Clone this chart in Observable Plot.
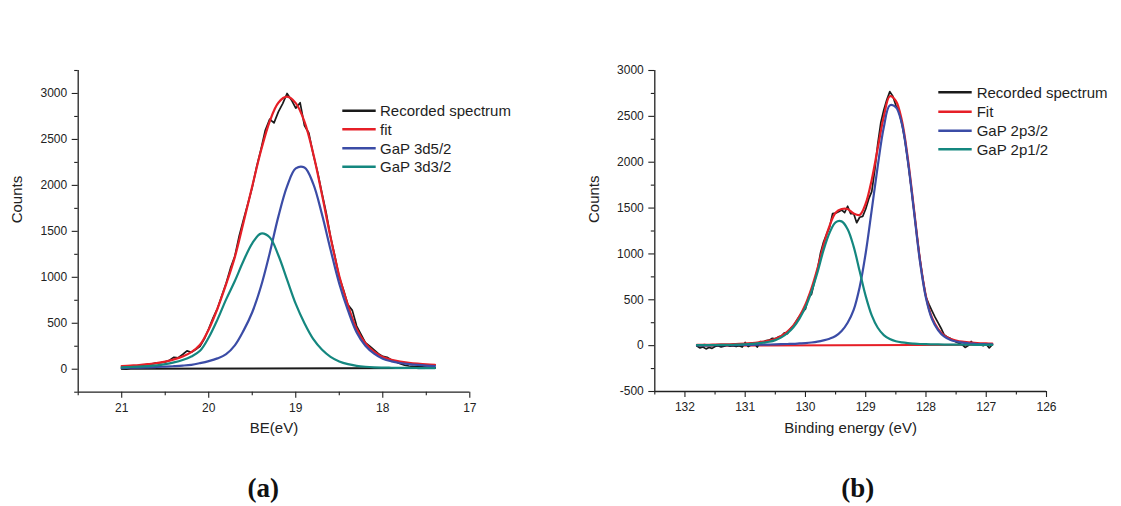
<!DOCTYPE html>
<html>
<head>
<meta charset="utf-8">
<script src="https://cdn.jsdelivr.net/npm/d3@7"></script>
<script src="https://cdn.jsdelivr.net/npm/@observablehq/plot@0.6"></script>
<style>
  body { margin: 0; background: #fff; }
  #wrap { position: relative; width: 1121px; height: 506px; overflow: hidden; background: #fff; }
  #wrap > svg, #wrap > div { position: absolute; top: 0; }
</style>
</head>
<body>
<div id="wrap"></div>
<script>
// ---------- Panel (a): GaP 3d ----------
const leftBE = [21.0,20.9,20.8,20.7,20.6,20.5,20.4,20.3,20.2,20.1,20.0,19.9,19.8,19.7,19.6,19.5,19.4,19.3,19.2,19.1,19.0,18.9,18.8,18.7,18.6,18.5,18.4,18.3,18.2,18.1,18.0,17.9,17.8,17.7,17.6,17.5,17.4];
const left3d52 = [14,16,18,21,24,28,33,39,48,66,88,118,165,260,420,620,900,1260,1660,1990,2185,2195,2020,1690,1300,930,640,400,255,170,115,86,68,56,47,40,35];
const left3d32 = [20,24,28,34,42,55,74,100,138,200,345,540,760,960,1180,1370,1476,1435,1240,975,710,500,330,215,135,85,55,37,27,21,18,16,15,14,13,12,12];
const leftFit = [34,40,46,55,66,83,107,139,186,266,433,658,925,1220,1600,1990,2376,2695,2900,2965,2895,2695,2350,1905,1435,1015,695,437,282,191,133,102,83,70,60,52,47];
const leftRecBE = [21.00,20.95,20.90,20.85,20.80,20.75,20.70,20.65,20.60,20.55,20.50,20.45,20.40,20.35,20.30,20.25,20.20,20.15,20.10,20.05,20.00,19.95,19.90,19.85,19.80,19.75,19.70,19.65,19.60,19.55,19.50,19.45,19.40,19.35,19.30,19.25,19.20,19.15,19.10,19.05,19.00,18.95,18.90,18.85,18.80,18.75,18.70,18.65,18.60,18.55,18.50,18.45,18.40,18.35,18.30,18.25,18.20,18.15,18.10,18.05,18.00,17.95,17.90,17.85,17.80,17.75,17.70,17.65,17.60,17.55,17.50,17.45,17.40];
const leftRec = [5,0,12,30,38,45,52,58,70,72,80,98,130,125,160,200,185,215,250,330,440,560,660,800,935,1100,1230,1450,1630,1800,1980,2200,2390,2600,2720,2680,2800,2890,3000,2930,2840,2900,2650,2570,2340,2150,1920,1700,1440,1230,1000,860,700,640,470,380,290,250,210,170,140,130,100,80,60,45,35,30,28,25,22,20,18];
const leftBaseBE = [21.0, 17.4];
const leftBase = [5, 12];
const leftXMajor = [21, 20, 19, 18, 17];
const leftXMinor = [21.5, 20.5, 19.5, 18.5, 17.5];
const leftYMajor = [0, 500, 1000, 1500, 2000, 2500, 3000];
const leftYMinor = [-250, 250, 750, 1250, 1750, 2250, 2750, 3250];
const leftNames = ["Recorded spectrum", "fit", "GaP 3d5/2", "GaP 3d3/2"];

// ---------- Panel (b): GaP 2p ----------
const rightBE = [131.8,131.7,131.6,131.5,131.4,131.3,131.2,131.1,131.0,130.9,130.8,130.7,130.6,130.5,130.4,130.3,130.2,130.1,130.0,129.9,129.8,129.7,129.6,129.5,129.4,129.3,129.2,129.1,129.0,128.9,128.8,128.7,128.6,128.5,128.4,128.3,128.2,128.1,128.0,127.9,127.8,127.7,127.6,127.5,127.4,127.3,127.2,127.1,127.0,126.9];
const right2p32 = [3,4,4,5,5,6,6,7,8,9,10,11,12,14,16,18,20,24,28,34,43,57,76,105,160,250,390,640,1010,1480,1960,2380,2620,2600,2420,2010,1470,920,520,290,170,100,65,45,33,26,21,17,15,13];
const right2p12 = [5,6,6,7,8,9,10,12,15,19,24,32,42,60,90,135,200,295,420,590,800,1040,1230,1345,1355,1270,1080,810,540,330,195,115,72,48,35,27,22,18,16,14,13,12,11,11,10,10,9,9,9,8];
const rightFit = [8,10,10,12,13,15,16,19,23,28,34,43,54,74,106,153,220,319,448,624,843,1097,1306,1450,1490,1490,1440,1425,1550,1810,2155,2495,2720,2670,2455,2037,1492,938,536,304,183,112,76,56,43,36,30,26,24,21];
const rightRecBE = [131.80,131.75,131.70,131.65,131.60,131.55,131.50,131.45,131.40,131.35,131.30,131.25,131.20,131.15,131.10,131.05,131.00,130.95,130.90,130.85,130.80,130.75,130.70,130.65,130.60,130.55,130.50,130.45,130.40,130.35,130.30,130.25,130.20,130.15,130.10,130.05,130.00,129.95,129.90,129.85,129.80,129.75,129.70,129.65,129.60,129.55,129.50,129.45,129.40,129.35,129.30,129.25,129.20,129.15,129.10,129.05,129.00,128.95,128.90,128.85,128.80,128.75,128.70,128.65,128.60,128.55,128.50,128.45,128.40,128.35,128.30,128.25,128.20,128.15,128.10,128.05,128.00,127.95,127.90,127.85,127.80,127.75,127.70,127.65,127.60,127.55,127.50,127.45,127.40,127.35,127.30,127.25,127.20,127.15,127.10,127.05,127.00,126.95,126.90];
const rightRec = [-5,-25,-15,-35,-20,-30,-10,0,-15,-5,5,-5,0,-10,0,-15,35,-10,10,30,-15,45,40,55,60,80,75,95,105,140,130,185,215,270,320,365,400,530,560,700,830,1010,1130,1215,1290,1440,1445,1460,1480,1450,1520,1440,1440,1340,1400,1410,1490,1600,1680,1910,2200,2430,2570,2680,2770,2720,2620,2560,2420,2240,2010,1750,1480,1200,940,720,530,450,380,310,250,190,120,95,80,60,40,25,10,-20,0,45,15,5,10,0,15,-25,10];
const rightBaseBE = [131.8, 126.9];
const rightBase = [0, 10];
const rightXMajor = [132, 131, 130, 129, 128, 127, 126];
const rightXMinor = [132.5, 131.5, 130.5, 129.5, 128.5, 127.5, 126.5];
const rightYMajor = [-500, 0, 500, 1000, 1500, 2000, 2500, 3000];
const rightYMinor = [-250, 250, 750, 1250, 1750, 2250, 2750];
const rightNames = ["Recorded spectrum", "Fit", "GaP 2p3/2", "GaP 2p1/2"];

const COLORS = ["#1a1a1a", "#e61f27", "#3b4ca6", "#14877f"];
const FONT = "'Liberation Sans', Arial, Helvetica, sans-serif";

const rows = (xs, ys) => xs.map((be, i) => ({be, c: ys[i]}));

function spectrum(o) {
  return Plot.plot({
    width: o.width, height: 506,
    marginLeft: o.ml, marginRight: o.mr, marginTop: 70, marginBottom: o.mb,
    style: {background: "transparent", color: "#222", fontFamily: FONT, fontSize: "12px", overflow: "visible"},
    x: {domain: o.xDomain},
    y: {domain: o.yDomain},
    marks: [
      Plot.axisX(o.xMajor, {tickSize: 6, tickPadding: 5, tickFormat: d => String(d), label: null, fontSize: 12, strokeWidth: 1.1}),
      Plot.axisX(o.xMinor, {tickSize: 3.5, tickFormat: () => "", label: null, strokeWidth: 1.1}),
      Plot.axisY(o.yMajor, {tickSize: 6, tickPadding: 5, tickFormat: d => String(d), label: null, fontSize: 12, strokeWidth: 1.1}),
      Plot.axisY(o.yMinor, {tickSize: 3.5, tickFormat: () => "", label: null, strokeWidth: 1.1}),
      Plot.ruleY([o.yDomain[0]], {stroke: "#222", strokeWidth: 1.3}),
      Plot.ruleX([o.xDomain[0]], {stroke: "#222", strokeWidth: 1.3}),
      Plot.text([o.xLabel], {frameAnchor: "bottom", dy: 41, fontSize: 15, fill: "#222"}),
      Plot.text(["Counts"], {frameAnchor: "left", dx: -61, dy: -8, rotate: -90, fontSize: 15, fill: "#222"}),
      Plot.line(rows(o.baseBE, o.base), {x: "be", y: "c", stroke: o.baseColor, strokeWidth: 2}),
      Plot.line(rows(o.recBE, o.rec), {x: "be", y: "c", stroke: COLORS[0], strokeWidth: 1.7}),
      Plot.line(rows(o.be, o.fit), {x: "be", y: "c", stroke: COLORS[1], strokeWidth: 2.2, curve: "catmull-rom"}),
      Plot.line(rows(o.be, o.p1), {x: "be", y: "c", stroke: COLORS[2], strokeWidth: 2.2, curve: "catmull-rom"}),
      Plot.line(rows(o.be, o.p2), {x: "be", y: "c", stroke: COLORS[3], strokeWidth: 2.2, curve: "catmull-rom"})
    ]
  });
}

const wrap = document.getElementById("wrap");
const NS = "http://www.w3.org/2000/svg";

const left = spectrum({
  width: 560, ml: 77.7, mr: 90.7, mb: 114.3,
  xDomain: [21.5, 17], yDomain: [-250, 3250],
  xMajor: leftXMajor, xMinor: leftXMinor, yMajor: leftYMajor, yMinor: leftYMinor,
  xLabel: "BE(eV)",
  be: leftBE, fit: leftFit, p1: left3d52, p2: left3d32,
  recBE: leftRecBE, rec: leftRec, baseBE: leftBaseBE, base: leftBase, baseColor: COLORS[0]
});
left.style.position = "absolute"; left.style.left = "0px"; left.style.top = "0px";
wrap.appendChild(left);

const right = spectrum({
  width: 561, ml: 94.3, mr: 75, mb: 115,
  xDomain: [132.5, 126], yDomain: [-500, 3000],
  xMajor: rightXMajor, xMinor: rightXMinor, yMajor: rightYMajor, yMinor: rightYMinor,
  xLabel: "Binding energy (eV)",
  be: rightBE, fit: rightFit, p1: right2p32, p2: right2p12,
  recBE: rightRecBE, rec: rightRec, baseBE: rightBaseBE, base: rightBase, baseColor: COLORS[1]
});
right.style.position = "absolute"; right.style.left = "560px"; right.style.top = "0px";
wrap.appendChild(right);

// legends and panel tags
const front = document.createElementNS(NS, "svg");
front.setAttribute("width", 1121); front.setAttribute("height", 506);
front.style.left = "0px";
function legend(names, x0, x1, tx, ys) {
  names.forEach((name, i) => {
    const l = document.createElementNS(NS, "line");
    l.setAttribute("x1", x0); l.setAttribute("x2", x1);
    l.setAttribute("y1", ys[i]); l.setAttribute("y2", ys[i]);
    l.setAttribute("stroke", COLORS[i]); l.setAttribute("stroke-width", 2.5);
    front.appendChild(l);
    const t = document.createElementNS(NS, "text");
    t.setAttribute("x", tx); t.setAttribute("y", ys[i] + 5.3);
    t.setAttribute("font-family", FONT); t.setAttribute("font-size", 15);
    t.setAttribute("fill", "#1e1e1e");
    t.textContent = name;
    front.appendChild(t);
  });
}
legend(leftNames, 342.3, 375.7, 380, [110.7, 129.3, 148.3, 166.7]);
legend(rightNames, 938.3, 971.7, 976.7, [92.3, 111.7, 130.7, 149.3]);
[["(a)", 263.3], ["(b)", 857.7]].forEach(([s, x]) => {
  const t = document.createElementNS(NS, "text");
  t.setAttribute("x", x); t.setAttribute("y", 497);
  t.setAttribute("text-anchor", "middle");
  t.setAttribute("font-family", "'Liberation Serif', 'Times New Roman', serif");
  t.setAttribute("font-weight", "bold"); t.setAttribute("font-size", 27);
  t.setAttribute("fill", "#111");
  t.textContent = s;
  front.appendChild(t);
});
wrap.appendChild(front);
</script>
</body>
</html>
